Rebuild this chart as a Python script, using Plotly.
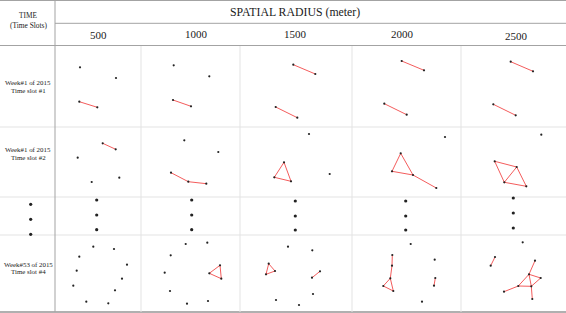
import plotly.graph_objects as go

# ---------------- data ----------------
RADII = [500, 1000, 1500, 2000, 2500]
RADIUS_LABELS = ["500", "1000", "1500", "2000", "2500"]
HEADER_TITLE = "SPATIAL RADIUS (meter)"
TIME_HEADER = ["TIME", "(Time Slots)"]
ROW_LABELS = [
    ["Week#1 of 2015", "Time slot #1"],
    ["Week#1 of 2015", "Time slot #2"],
    [],
    ["Week#53 of 2015", "Time slot #4"],
]

# node positions (cell-local units) and edges (node index pairs) per radius
ROW1_NODES = {
    500: [(25, 21.3), (61, 32), (24.3, 55.7), (42.3, 61.3)],
    1000: [(32.7, 19.3), (68.3, 30.3), (32, 54), (50, 60.3)],
    1500: [(53.3, 18.7), (75.3, 28), (35.7, 61), (57.3, 71.7)],
    2000: [(49.7, 15), (72, 24.3), (32.3, 57.7), (54.7, 68.7)],
    2500: [(49.7, 15.7), (72, 25.3), (32.3, 58.3), (54.7, 69.3)],
}
ROW1_EDGES = {
    500: [(2, 3)],
    1000: [(2, 3)],
    1500: [(0, 1), (2, 3)],
    2000: [(0, 1), (2, 3)],
    2500: [(0, 1), (2, 3)],
}

ROW2_NODES = {
    500: [(47.7, 16.3), (60.7, 22.3), (22.7, 30.7), (36.7, 55), (64.3, 50.7)],
    1000: [(43.3, 13.3), (77.3, 25), (30, 45.7), (47.3, 54.7), (65.3, 56.7)],
    1500: [(69, 7), (89.7, 47), (44, 35.3), (34.3, 50.3), (51, 54.3)],
    2000: [(93, 10), (48.7, 26.3), (40, 44.3), (61, 48), (84.3, 61)],
    2500: [(80.3, 7.7), (33.7, 34.3), (55.7, 40), (43.3, 55.3), (65.3, 59.3)],
}
ROW2_EDGES = {
    500: [(0, 1)],
    1000: [(2, 3), (3, 4)],
    1500: [(2, 3), (3, 4), (4, 2)],
    2000: [(1, 2), (2, 3), (3, 1), (3, 4)],
    2500: [(1, 2), (1, 3), (2, 3), (2, 4), (3, 4)],
}

ROW3_NODES = {
    500: [(41.7, 3), (41.7, 18), (41.7, 32.7)],
    1000: [(50.7, 3), (50.7, 18), (50.7, 32.7)],
    1500: [(55.3, 4), (55.3, 19), (55.3, 33)],
    2000: [(53.7, 4), (53.7, 19), (53.7, 33)],
    2500: [(52.3, 1), (52.3, 16), (52.3, 31)],
}
ROW3_LABEL_DOTS = [(30.7, 7.3), (30.7, 22.3), (30.7, 37.3)]

ROW4_NODES = {
    500: [(38.3, 11.7), (59, 14), (24.3, 21.7), (72, 29.7), (21.7, 35.7),
          (67, 43.7), (18.3, 50.7), (60, 55.3), (31.3, 66.7), (53.3, 68.3)],
    1000: [(44.7, 9), (66.3, 7.7), (29.7, 20.3), (23.7, 37.7), (29, 56),
           (46, 68.7), (67, 66), (79, 30.3), (68.3, 38.3), (80.3, 43.7)],
    1500: [(28.7, 28.7), (26, 39.3), (35, 36), (36, 65), (48, 11.7),
           (72.3, 15.3), (72, 42.7), (80, 36.3), (73, 59), (59, 70)],
    2000: [(58.7, 9), (40.3, 20), (40, 30.7), (38.3, 43.3), (31.3, 51),
           (41.3, 56), (82.7, 24.7), (83.3, 43), (82, 50.7), (70, 66.7)],
    2500: [(61.7, 7.3), (34, 22), (29.7, 30.7), (74, 25.7), (68, 39.3),
           (79.7, 43), (57.3, 51), (70.3, 51.3), (43, 56.7), (71.3, 64)],
}
ROW4_EDGES = {
    500: [],
    1000: [(7, 8), (8, 9), (9, 7)],
    1500: [(0, 1), (1, 2), (2, 0), (6, 7)],
    2000: [(1, 2), (2, 3), (3, 4), (4, 5), (5, 3), (7, 8)],
    2500: [(1, 2), (3, 4), (4, 5), (4, 6), (4, 7), (5, 7), (6, 7), (6, 8), (7, 9)],
}

ROWS = [
    (ROW1_NODES, ROW1_EDGES),
    (ROW2_NODES, ROW2_EDGES),
    (ROW3_NODES, {r: [] for r in RADII}),
    (ROW4_NODES, ROW4_EDGES),
]

# ---------------- layout geometry ----------------
W, H = 566, 313
LABEL_COL_RIGHT = 55
COL_LEFT = [55, 141, 240, 352, 461]
COL_CENTER_Y = [35, 34, 33.5, 34, 35.5]
COL_CENTER_X = [98.7, 196, 295, 402, 516.3]
ROW_TOP = [46, 127, 197, 235]
BOTTOM = 312
ROW_LABEL_Y = [(82.3, 90), (149.3, 157.7), None, (264, 271.7)]

EDGE_COLOR = "#f45c5c"
NODE_COLOR = "#222222"
DARK_LINE = "#a3a3a3"
LIGHT_LINE = "#e3e3e3"
FONT = "Liberation Serif, Times New Roman, serif"
TXT = "#1a1a1a"

fig = go.Figure()

ex, ey, nx, ny = [], [], [], []
dx3, dy3 = [], []
for ri, (nodes_d, edges_d) in enumerate(ROWS):
    top = ROW_TOP[ri]
    for ci, r in enumerate(RADII):
        left = COL_LEFT[ci]
        pts = nodes_d[r]
        for (i, j) in edges_d[r]:
            ex += [left + pts[i][0], left + pts[j][0], None]
            ey += [top + pts[i][1], top + pts[j][1], None]
        for (x, y) in pts:
            if ri == 2:
                dx3.append(left + x)
                dy3.append(top + y)
            else:
                nx.append(left + x)
                ny.append(top + y)
for (x, y) in ROW3_LABEL_DOTS:
    dx3.append(x)
    dy3.append(ROW_TOP[2] + y)

fig.add_trace(go.Scatter(x=ex, y=ey, mode="lines",
                         line=dict(color=EDGE_COLOR, width=1.0),
                         hoverinfo="skip", showlegend=False))
fig.add_trace(go.Scatter(x=nx, y=ny, mode="markers",
                         marker=dict(color=NODE_COLOR, size=2.2, line=dict(width=0)),
                         hoverinfo="skip", showlegend=False))
fig.add_trace(go.Scatter(x=dx3, y=dy3, mode="markers",
                         marker=dict(color=NODE_COLOR, size=3.2, line=dict(width=0)),
                         hoverinfo="skip", showlegend=False))

shapes = []
def hline(y, x0, x1, color, w=1):
    shapes.append(dict(type="line", xref="x", yref="y", x0=x0, x1=x1, y0=y, y1=y,
                       line=dict(color=color, width=w), layer="below"))
def vline(x, y0, y1, color, w=1):
    shapes.append(dict(type="line", xref="x", yref="y", x0=x, x1=x, y0=y0, y1=y1,
                       line=dict(color=color, width=w), layer="below"))

hline(0.5, 0, W, DARK_LINE)
hline(23.3, LABEL_COL_RIGHT, W, DARK_LINE)
hline(45.5, 0, W, DARK_LINE)
for t in ROW_TOP[1:]:
    hline(t, 0, W, LIGHT_LINE)
hline(BOTTOM, 0, W, "#b0b0b0", 2)
vline(LABEL_COL_RIGHT, 0, BOTTOM, DARK_LINE)
for x in COL_LEFT[1:]:
    vline(x, 46, BOTTOM, LIGHT_LINE)

ann = []
def text(x, y, s, size):
    ann.append(dict(x=x, y=y, xref="x", yref="y", text=s, showarrow=False,
                    xanchor="center", yanchor="middle",
                    font=dict(family=FONT, size=size, color=TXT)))

text(28, 15.7, TIME_HEADER[0], 7.3)
text(28, 25, TIME_HEADER[1], 7.4)
text(295, 12.3, HEADER_TITLE, 11.8)
for ci, lab in enumerate(RADIUS_LABELS):
    text(COL_CENTER_X[ci], COL_CENTER_Y[ci], lab, 11)
for ri, lab in enumerate(ROW_LABELS):
    if lab:
        text(28, ROW_LABEL_Y[ri][0], lab[0], 6.9)
        text(28, ROW_LABEL_Y[ri][1], lab[1], 6.9)

fig.update_layout(
    width=W, height=H, margin=dict(l=0, r=0, t=0, b=0),
    paper_bgcolor="white", plot_bgcolor="white",
    xaxis=dict(range=[0, W], visible=False, fixedrange=True),
    yaxis=dict(range=[H, 0], visible=False, fixedrange=True),
    shapes=shapes, annotations=ann,
)
fig.write_html("out.html", config={"displayModeBar": False},
               post_script="document.body.style.margin='0';document.body.style.overflow='hidden';")
